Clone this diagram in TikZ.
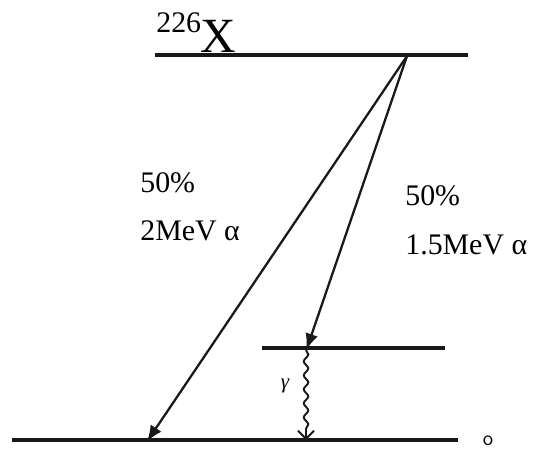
\documentclass[tikz,border=0pt]{standalone}
\usepackage{fontspec}
\setmainfont{Liberation Serif}
\usepackage{tikz}
\usetikzlibrary{arrows.meta,decorations.pathmorphing}
\definecolor{inkc}{RGB}{25,25,25}
\tikzset{
  lvl/.style={line width=2.1pt,inkc},
  alf/.style={-{Latex[length=3.2mm,width=2.6mm]},line width=1.3pt,inkc,shorten >=-1pt},
  gam/.style={-{Straight Barb[length=1.6mm]},line width=1.1pt,inkc,decorate,decoration={snake,amplitude=0.45mm,segment length=2.8mm,post length=1.5mm}},
  lab/.style={font=\fontsize{17}{20}\selectfont,inner sep=0pt,anchor=base west},
}
\begin{document}
\begin{tikzpicture}[x=0.02cm,y=-0.02cm]
  \useasboundingbox (0,0) rectangle (537,456);
  % levels
  \coordinate (topL) at (155,55);  \coordinate (topR) at (468,55);
  \coordinate (midL) at (262,348); \coordinate (midR) at (445,348);
  \coordinate (gndL) at (12,440);  \coordinate (gndR) at (458,440);
  \draw[lvl] (topL)--(topR);
  \draw[lvl] (midL)--(midR);
  \draw[lvl] (gndL)--(gndR);
  % transitions
  \coordinate (src) at (407,56);
  \coordinate (hitA) at (148,440);
  \coordinate (hitB) at (307,348);
  \coordinate (gtop) at (306,350);
  \coordinate (gbot) at (306,440);
  \draw[alf] (src)--(hitA);
  \draw[alf] (src)--(hitB);
  \draw[gam] (gtop)--(gbot);
  % labels
  \node[lab,font=\fontsize{17}{20}\selectfont] (iso) at (156,33) {226};
  \node[lab,font=\fontsize{28}{32}\selectfont] (elX) at (200,53) {X};
  \node[lab] (pA) at (140,192) {50\%};
  \node[lab] (eA) at (140,240) {2MeV α};
  \node[lab] (pB) at (405,205) {50\%};
  \node[lab] (eB) at (405,254) {1.5MeV α};
  \node[font=\large\itshape,inner sep=0pt] (gl) at (285,386) {γ};
  \node[font=\large\sffamily,inner sep=0pt] (zero) at (488,441) {o};
\end{tikzpicture}
\end{document}
